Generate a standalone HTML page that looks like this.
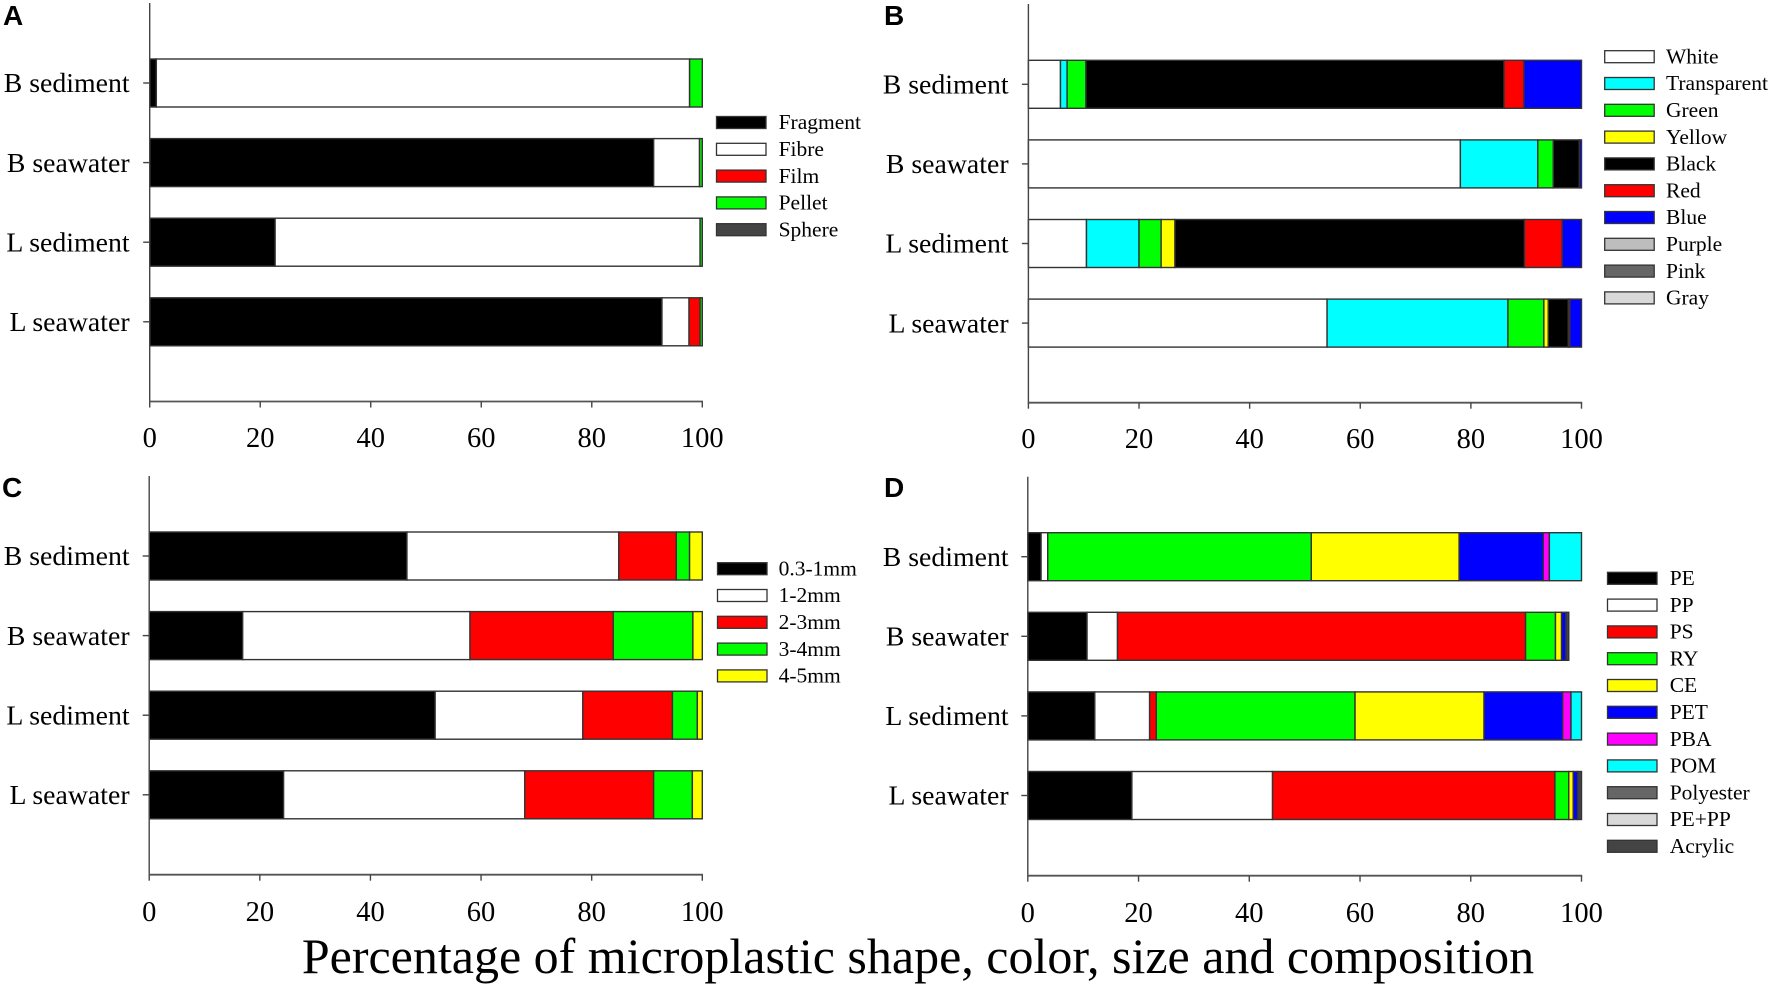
<!DOCTYPE html>
<html lang="en">
<head>
<meta charset="utf-8">
<title>Percentage of microplastic shape, color, size and composition</title>
<style>
  html, body { margin: 0; padding: 0; background: #fff; }
  svg { display: block; font-family: "Liberation Serif", serif; }
</style>
</head>
<body>
<svg id="chart" xmlns="http://www.w3.org/2000/svg" width="1772" height="991" viewBox="0 0 1772 991">
  <rect x="0" y="0" width="1772" height="991" fill="#fff"/>
  <text x="918" y="973" font-size="50" text-anchor="middle" fill="#000">Percentage of microplastic shape, color, size and composition</text>
</svg>
<script>
const categories = ['B sediment', 'B seawater', 'L sediment', 'L seawater'];
const xTicks = [0, 20, 40, 60, 80, 100];

const shapeLabels = ['Fragment', 'Fibre', 'Film', 'Pellet', 'Sphere'];
const shapeFragment = [1.2, 91.2, 22.7, 92.7];
const shapeFibre = [96.5, 8.3, 76.9, 4.9];
const shapeFilm = [0, 0, 0, 2.0];
const shapePellet = [2.3, 0.5, 0.4, 0.4];
const shapeSphere = [0, 0, 0, 0];

const colorLabels = ['White', 'Transparent', 'Green', 'Yellow', 'Black', 'Red', 'Blue', 'Purple', 'Pink', 'Gray'];
const colorWhite = [5.8, 78.1, 10.5, 54.0];
const colorTransparent = [1.2, 14.0, 9.5, 32.7];
const colorGreen = [3.4, 2.8, 4.0, 6.5];
const colorYellow = [0, 0, 2.5, 0.8];
const colorBlack = [75.6, 4.7, 63.2, 3.6];
const colorRed = [3.6, 0, 6.8, 0.3];
const colorBlue = [10.4, 0.4, 3.5, 2.1];
const colorPurple = [0, 0, 0, 0];
const colorPink = [0, 0, 0, 0];
const colorGray = [0, 0, 0, 0];

const sizeLabels = ['0.3-1mm', '1-2mm', '2-3mm', '3-4mm', '4-5mm'];
const size03to1 = [46.6, 16.9, 51.7, 24.3];
const size1to2 = [38.3, 41.1, 26.7, 43.6];
const size2to3 = [10.4, 25.9, 16.2, 23.3];
const size3to4 = [2.4, 14.4, 4.5, 7.0];
const size4to5 = [2.3, 1.7, 0.9, 1.8];

const polymerLabels = ['PE', 'PP', 'PS', 'RY', 'CE', 'PET', 'PBA', 'POM', 'Polyester', 'PE+PP', 'Acrylic'];
const polymerPE = [2.4, 10.7, 12.1, 18.8];
const polymerPP = [1.2, 5.5, 9.9, 25.4];
const polymerPS = [0, 73.7, 1.2, 51.0];
const polymerRY = [47.6, 5.4, 35.9, 2.5];
const polymerCE = [26.7, 1.1, 23.3, 0.8];
const polymerPET = [15.2, 0.8, 14.2, 0.8];
const polymerPBA = [1.1, 0, 1.5, 0];
const polymerPOM = [5.8, 0, 1.9, 0];
const polymerPolyester = [0, 0, 0, 0];
const polymerPEPP = [0, 0, 0, 0];
const polymerAcrylic = [0, 0.5, 0, 0.7];

const panels = [
  { key: 'a', letter: 'A', letterX: 3, letterY: 25, x0: 149.7, x100: 702.3, axisTop: 3, axisY: 401.5, barTop: 59, labelRight: 129.6, tickLabelY: 447,
    legendSwatchX: 716.5, legendTextX: 778.6, legendTop: 116.5, labels: shapeLabels,
    series: [shapeFragment, shapeFibre, shapeFilm, shapePellet, shapeSphere],
    fills: ['#000000', '#ffffff', '#ff0000', '#00ff00', '#444444'] },
  { key: 'b', letter: 'B', letterX: 884, letterY: 25, x0: 1028.4, x100: 1581.5, axisTop: 4, axisY: 402.7, barTop: 60.3, labelRight: 1008.6, tickLabelY: 448,
    legendSwatchX: 1604.7, legendTextX: 1666, legendTop: 50.7, labels: colorLabels,
    series: [colorWhite, colorTransparent, colorGreen, colorYellow, colorBlack, colorRed, colorBlue, colorPurple, colorPink, colorGray],
    fills: ['#ffffff', '#00ffff', '#00ff00', '#ffff00', '#000000', '#ff0000', '#0000ff', '#bdbdbd', '#666666', '#d9d9d9'] },
  { key: 'c', letter: 'C', letterX: 2, letterY: 497, x0: 149.2, x100: 702.3, axisTop: 476, axisY: 874.7, barTop: 532, labelRight: 129.6, tickLabelY: 921,
    legendSwatchX: 717.5, legendTextX: 778.6, legendTop: 562.7, labels: sizeLabels,
    series: [size03to1, size1to2, size2to3, size3to4, size4to5],
    fills: ['#000000', '#ffffff', '#ff0000', '#00ff00', '#ffff00'] },
  { key: 'd', letter: 'D', letterX: 884, letterY: 497, x0: 1027.8, x100: 1581.5, axisTop: 476.7, axisY: 875.7, barTop: 532.7, labelRight: 1008.6, tickLabelY: 922,
    legendSwatchX: 1607.5, legendTextX: 1669.7, legendTop: 572.3, labels: polymerLabels,
    series: [polymerPE, polymerPP, polymerPS, polymerRY, polymerCE, polymerPET, polymerPBA, polymerPOM, polymerPolyester, polymerPEPP, polymerAcrylic],
    fills: ['#000000', '#ffffff', '#ff0000', '#00ff00', '#ffff00', '#0000ff', '#ff00ff', '#00ffff', '#666666', '#d9d9d9', '#444444'] }
];

const barHeight = 48;
const barStep = 79.6;
const legendStep = 26.8;
const legendSwatchW = 49.5;
const legendSwatchH = 12;
const svg = document.getElementById('chart');
const NS = 'http://www.w3.org/2000/svg';

function make(tag, attrs, parent) {
  const el = document.createElementNS(NS, tag);
  for (const k in attrs) el.setAttribute(k, attrs[k]);
  parent.appendChild(el);
  return el;
}

panels.forEach(function (p) {
  const g = make('g', {}, svg);
  
  

  const xScale = function (v) { return p.x0 + (v / 100) * (p.x100 - p.x0); };
  const yScale = function (i) { return p.barTop + i * barStep; };

  const letter = make('text', { x: p.letterX, y: p.letterY, 'font-size': 28, 'font-weight': 'bold', fill: '#000', style: 'font-family:"Liberation Sans",sans-serif' }, g);
  letter.textContent = p.letter;
  
  

  categories.forEach(function (cat, i) {
    let cum = 0;
    p.series.forEach(function (values, s) {
      const v = values[i];
      if (v > 0) {
        const seg = make('rect', { x: xScale(cum), y: yScale(i), width: xScale(cum + v) - xScale(cum), height: barHeight, fill: p.fills[s], stroke: '#333', 'stroke-width': 1.4 }, g);
        
        
      }
      cum += v;
    });

    const tick = make('line', { x1: p.x0 - 6.5, x2: p.x0, y1: yScale(i) + barHeight / 2, y2: yScale(i) + barHeight / 2, stroke: '#444', 'stroke-width': 1.4 }, g);
    
    

    const lab = make('text', { x: p.labelRight, y: yScale(i) + barHeight / 2 + 9.2, 'font-size': 27.8, 'text-anchor': 'end', fill: '#000' }, g);
    lab.textContent = cat;
    
    
  });

  const yAxis = make('line', { x1: p.x0, x2: p.x0, y1: p.axisTop, y2: p.axisY, stroke: '#444', 'stroke-width': 1.4 }, g);
  
  

  const xAxis = make('line', { x1: p.x0 - 0.7, x2: p.x100 + 0.7, y1: p.axisY, y2: p.axisY, stroke: '#555', 'stroke-width': 1.8 }, g);
  
  

  xTicks.forEach(function (t) {
    const tk = make('line', { x1: xScale(t), x2: xScale(t), y1: p.axisY, y2: p.axisY + 6, stroke: '#444', 'stroke-width': 1.4 }, g);
    
    

    const tl = make('text', { x: xScale(t), y: p.tickLabelY, 'font-size': 28.5, 'text-anchor': 'middle', fill: '#000' }, g);
    tl.textContent = t;
    
    
  });

  p.labels.forEach(function (label, s) {
    const y = p.legendTop + s * legendStep;
    const sw = make('rect', { x: p.legendSwatchX, y: y, width: legendSwatchW, height: legendSwatchH, fill: p.fills[s], stroke: '#333', 'stroke-width': 1.3 }, g);
    
    

    const tx = make('text', { x: p.legendTextX, y: y + legendSwatchH / 2 + 6.7, 'font-size': 21.5, fill: '#000' }, g);
    tx.textContent = label;
    
    
  });
});
</script>
</body>
</html>
